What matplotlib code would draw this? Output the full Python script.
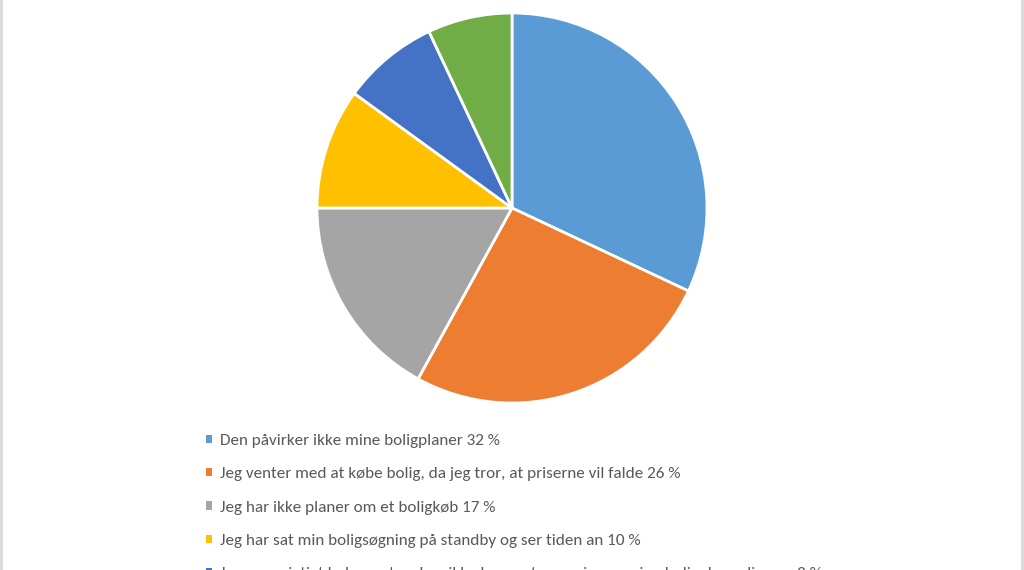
import matplotlib.pyplot as plt
from matplotlib.patches import Patch

# Svar og andele (%)
labels = [
    "Den påvirker ikke mine boligplaner",
    "Jeg venter med at købe bolig, da jeg tror, at priserne vil falde",
    "Jeg har ikke planer om et boligkøb",
    "Jeg har sat min boligsøgning på standby og ser tiden an",
    "Jeg er oprigtigt bekymret og kan ikke koncentrere mig om mine boligplaner lige nu",
    "",
]
values = [32, 26, 17, 10, 8, 7]
colors = ['#5B9BD5', '#ED7D31', '#A5A5A5', '#FFC000', '#4472C4', '#70AD47']

W, H = 1024, 570
fig = plt.figure(figsize=(W / 100, H / 100), dpi=100)
fig.patch.set_facecolor('white')

# kant rundt om diagrammet
fig.patches.append(plt.Rectangle((1 / W, -0.1), 1 - 3 / W, 1.2, transform=fig.transFigure,
                                 fill=False, edgecolor='#D9D9D9', linewidth=2))

# cirkeldiagram: centrum (512, 208), radius 195 px
r = 195
cx, cy = 512, 208
ax = fig.add_axes([(cx - r) / W, (H - cy - r) / H, 2 * r / W, 2 * r / H])
ax.pie(values, colors=colors, startangle=90, counterclock=False,
       wedgeprops=dict(edgecolor='white', linewidth=2))
ax.set_xlim(-1, 1)
ax.set_ylim(-1, 1)
ax.set_aspect('auto')
ax.axis('off')

# forklaring (kun de synlige rækker)
handles = []
for lab, val, col in zip(labels, values, colors):
    if lab:
        handles.append(Patch(facecolor=col, edgecolor='none', label=f"{lab} {val} %"))

leg = fig.legend(handles=handles, loc='upper left', bbox_to_anchor=(206 / W, 1 - 434 / H),
                 frameon=False, borderpad=0, borderaxespad=0, handlelength=0.38,
                 handleheight=0.38, handletextpad=0.42, labelspacing=1.13,
                 prop={'family': ['Carlito', 'DejaVu Sans'], 'size': 12.3},
                 labelcolor='#595959')

fig.savefig('out.png', dpi=100)
